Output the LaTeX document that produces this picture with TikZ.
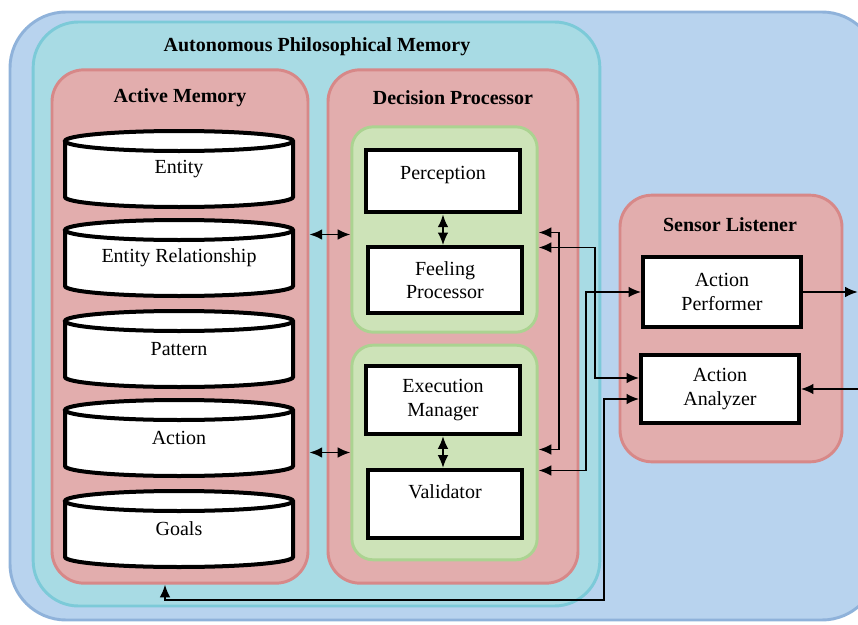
\documentclass[tikz,border=0pt]{standalone}
\usepackage{fontspec}
\setmainfont{Liberation Serif}
\usetikzlibrary{arrows.meta,positioning,calc}
\definecolor{diagblue}{HTML}{B8D3EE}
\definecolor{diagblueline}{HTML}{8FB2DA}
\definecolor{diagcyan}{HTML}{A8DBE4}
\definecolor{diagcyanline}{HTML}{7CCAD8}
\definecolor{diagpink}{HTML}{E2ADAD}
\definecolor{diagpinkline}{HTML}{D78888}
\definecolor{diaggreen}{HTML}{CDE3B8}
\definecolor{diaggreenline}{HTML}{ABD391}

\begin{document}
\begin{tikzpicture}[
    x=0.75pt,y=-0.75pt,>={Latex[length=9.5pt,width=8pt]},
    panel/.style={rectangle,line width=2.2pt,inner sep=0pt},
    title/.style={font=\fontsize{15}{17}\selectfont\bfseries},
    unit/.style={rectangle,draw=black,fill=white,line width=3.2pt,
      minimum width=116pt,align=center,
      font=\fontsize{15}{17.5}\selectfont},
    storeline/.style={draw=black,fill=white,line width=3pt},
    store/.style={font=\fontsize{15}{17}\selectfont},
    link/.style={<->,line width=1.4pt},
    feed/.style={->,line width=1.4pt}
  ]
    \useasboundingbox (0,0) rectangle (858,625);
    \clip (0,0) rectangle (858,625);

    % nested panels
    \node[panel,draw=diagblueline,fill=diagblue,rounded corners=42pt,
      minimum width=651pt,minimum height=456pt] (outer) at (444,316) {};
    \node[panel,draw=diagcyanline,fill=diagcyan,rounded corners=34pt,
      minimum width=425pt,minimum height=438pt] (apm) at (316.5,314) {};
    \node[panel,draw=diagpinkline,fill=diagpink,rounded corners=24pt,
      minimum width=192pt,minimum height=385pt] (am) at (180,326.5) {};
    \node[panel,draw=diagpinkline,fill=diagpink,rounded corners=24pt,
      minimum width=187.5pt,minimum height=385pt] (dp) at (453,326.5) {};
    \node[panel,draw=diaggreenline,fill=diaggreen,rounded corners=16pt,
      minimum width=139pt,minimum height=154pt] (grpA) at (444.5,229.5) {};
    \node[panel,draw=diaggreenline,fill=diaggreen,rounded corners=16pt,
      minimum width=139pt,minimum height=161pt] (grpB) at (444.5,452.5) {};
    \node[panel,draw=diagpinkline,fill=diagpink,rounded corners=24pt,
      minimum width=166.5pt,minimum height=200pt] (sensor) at (731,328.5) {};

    \node[title] (apmtitle) at (317,47) {Autonomous Philosophical Memory};
    \node[title] (amtitle) at (180,98) {Active Memory};
    \node[title] (dptitle) at (453,98) {Decision Processor};
    \node[title] (sensortitle) at (730,225) {Sensor Listener};

    % active memory stores (cylinders)
    \foreach \nm/\yy/\txt in {entity/169/Entity,relation/258/Entity Relationship,
        pattern/349/Pattern,action/438/Action,goals/529/Goals}{
      \draw[storeline] (65,\yy-28) -- (65,\yy+28)
        arc[start angle=180,end angle=360,x radius=85.5pt,y radius=7.5pt]
        -- (293,\yy-28)
        arc[start angle=0,end angle=360,x radius=85.5pt,y radius=7.5pt];
      \node[store] (\nm) at (179,\yy) {\txt};
    }

    % processing units
    \node[unit,minimum height=47pt,text depth=12pt] (percep) at (443,181) {Perception};
    \node[unit,minimum height=49pt] (feel) at (445,280) {Feeling\\Processor};
    \node[unit,minimum height=51pt] (exec) at (443,400) {Execution\\Manager};
    \node[unit,minimum height=51pt,text depth=19pt] (valid) at (445,504) {Validator};
    \node[unit,minimum width=118pt,minimum height=52pt] (performer) at (722,292) {Action\\Performer};
    \node[unit,minimum width=118pt,minimum height=51pt] (analyzer) at (720,389) {Action\\Analyzer};

    \coordinate (perfout) at ($(performer.east)+(55,0)$);
    \coordinate (anain) at ($(analyzer.east)+(62,0)$);

    % connectors
    \draw[link] ($(am.east |- grpA.west)+(0,5)$) -- ($(grpA.west)+(0,5)$);
    \draw[link] (am.east |- grpB.west) -- (grpB.west);
    \draw[link] (percep.south) -- (percep.south |- feel.north);
    \draw[link] (exec.south) -- (exec.south |- valid.north);
    \draw[link] ($(grpA.east)+(0,3)$) -- ++(20,0) |- ($(grpB.east)+(0,-3)$);
    \draw[link] ($(grpA.east)+(0,18)$) -- ++(56,0) |- ($(analyzer.west)+(0,-11)$);
    \draw[link] (performer.west) -- ++(-55,0) |- ($(grpB.east)+(0,18)$);
    \draw[link] ($(analyzer.west)+(0,10)$) -- ++(-35,0)
      |- ($(am.south)+(-15,15)$) -- ($(am.south)+(-15,0)$);
    \draw[feed] (performer.east) -- (perfout);
    \draw[feed] (anain) -- (analyzer.east);
\end{tikzpicture}
\end{document}
